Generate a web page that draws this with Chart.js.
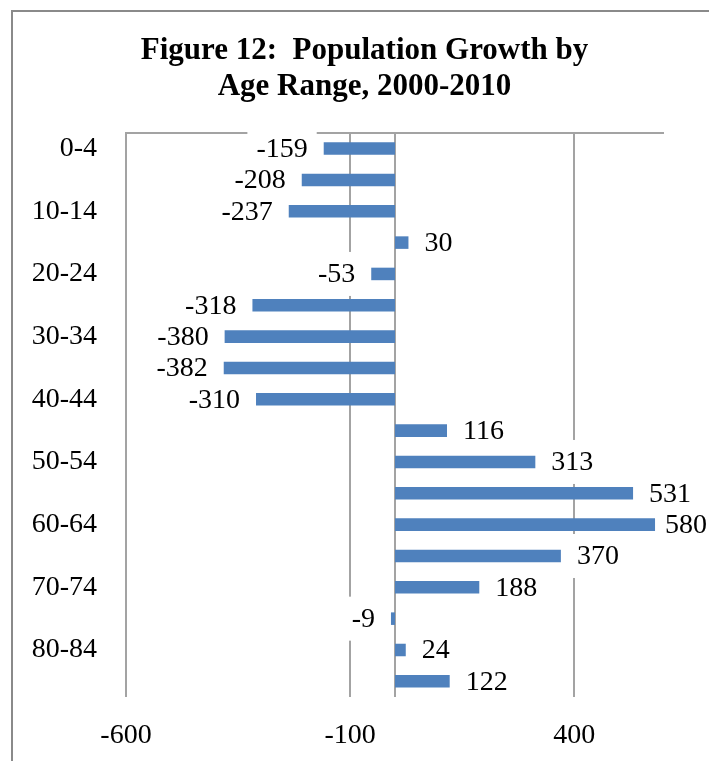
<!DOCTYPE html>
<html>
<head>
<meta charset="utf-8">
<script src="https://cdn.jsdelivr.net/npm/chart.js@4.4.1/dist/chart.umd.min.js"></script>
<style>
  html, body { margin: 0; padding: 0; background: #ffffff; }
  #wrap { position: relative; width: 709px; height: 761px; }
</style>
</head>
<body>
<div id="wrap"><canvas id="c" width="709" height="761"></canvas></div>
<script>
const categories = ['0-4','5-9','10-14','15-19','20-24','25-29','30-34','35-39','40-44','45-49','50-54','55-59','60-64','65-69','70-74','75-79','80-84','85+'];
const growth = [-159, -208, -237, 30, -53, -318, -380, -382, -310, 116, 313, 531, 580, 370, 188, -9, 24, 122];
const xTicks = [-600, -100, 400];
const titleLines = ['Figure 12:  Population Growth by', 'Age Range, 2000-2010'];

const SERIF = "'Liberation Serif', 'Times New Roman', serif";
const GRID = '#a3a3a3';

const framePlugin = {
  id: 'frame',
  afterLayout(chart) {
    // centre the title over the region the original figure uses
    if (chart.titleBlock) {
      chart.titleBlock.left = 65;
      chart.titleBlock.right = 664;
    }
  },
  beforeDraw(chart) {
    const ctx = chart.ctx;
    ctx.save();
    ctx.fillStyle = '#ffffff';
    ctx.fillRect(0, 0, chart.width, chart.height);
    ctx.strokeStyle = '#8a8a8a';
    ctx.lineWidth = 2;
    ctx.strokeRect(12, 11, 800, 800);
    ctx.restore();
  },
  beforeDatasetsDraw(chart) {
    const ctx = chart.ctx;
    const a = chart.chartArea;
    const x0 = chart.scales.x.getPixelForValue(0);
    ctx.save();
    ctx.strokeStyle = GRID;
    ctx.lineWidth = 2;
    ctx.beginPath();
    ctx.moveTo(a.left - 1, a.top);
    ctx.lineTo(a.right, a.top);
    ctx.moveTo(x0, a.top);
    ctx.lineTo(x0, a.bottom);
    ctx.stroke();
    ctx.restore();
  },
  afterDatasetsDraw(chart) {
    const ctx = chart.ctx;
    const meta = chart.getDatasetMeta(0);
    const data = chart.data.datasets[0].data;
    ctx.save();
    ctx.font = '28px ' + SERIF;
    ctx.textBaseline = 'middle';
    ctx.textAlign = 'left';
    meta.data.forEach((bar, i) => {
      const v = data[i];
      const txt = String(v);
      const w = ctx.measureText(txt).width;
      let left;
      if (v >= 0) {
        left = bar.x + 16;
        if (left + w > 707) left = 707 - w;
      } else {
        left = bar.x - 16 - w;
      }
      ctx.fillStyle = '#ffffff';
      ctx.fillRect(left - 9, bar.y - 22, w + 18, 44);
      ctx.fillStyle = '#000000';
      ctx.fillText(txt, left, bar.y + 1);
    });
    ctx.restore();
  }
};

new Chart(document.getElementById('c'), {
  type: 'bar',
  data: {
    labels: categories,
    datasets: [{
      data: growth,
      backgroundColor: '#4f81bd',
      borderWidth: 0,
      categoryPercentage: 1.0,
      barPercentage: 0.4
    }]
  },
  options: {
    indexAxis: 'y',
    responsive: false,
    animation: false,
    devicePixelRatio: 1,
    layout: { padding: { left: 20, right: 45, top: 0, bottom: 8 } },
    plugins: {
      legend: { display: false },
      tooltip: { enabled: false },
      title: {
        display: true,
        text: titleLines,
        color: '#000000',
        font: { family: SERIF, size: 31, weight: 'bold', lineHeight: 1.16 },
        padding: { top: 33, bottom: 28 }
      }
    },
    scales: {
      x: {
        min: -600,
        max: 600,
        afterBuildTicks(scale) { scale.ticks = xTicks.map(v => ({ value: v })); },
        afterFit(scale) { scale.height = 56; },
        grid: { display: true, color: GRID, lineWidth: 2, drawTicks: false },
        border: { display: false },
        ticks: {
          color: '#000000',
          font: { family: SERIF, size: 28, lineHeight: 1.2 },
          padding: 22,
          maxRotation: 0,
          autoSkip: false
        }
      },
      y: {
        afterFit(scale) {
          scale.width = 106;
          scale.paddingTop = 0;
          scale.paddingBottom = 0;
        },
        grid: { display: false, drawTicks: false },
        border: { display: false },
        ticks: {
          color: '#000000',
          font: { family: SERIF, size: 28, lineHeight: 1.2 },
          padding: 29,
          autoSkip: false,
          callback(value, index) { return index % 2 === 0 ? categories[index] : ''; }
        }
      }
    }
  },
  plugins: [framePlugin]
});
</script>
</body>
</html>
